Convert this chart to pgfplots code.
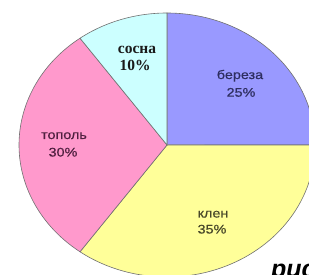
\documentclass[border=0pt]{standalone}
\usepackage{fontspec}
\setmainfont{Liberation Sans}
\newfontfamily\serifcyr{Liberation Serif}
\newfontfamily\lblfont[FakeBold=0.5]{Liberation Sans}
\usepackage{pgfplots}
\pgfplotsset{compat=1.18}
\definecolor{cB}{HTML}{9999FF}
\definecolor{cK}{HTML}{FFFF99}
\definecolor{cT}{HTML}{FF99CC}
\definecolor{cS}{HTML}{CCFFFF}
\definecolor{edge}{HTML}{707070}
\definecolor{tB}{HTML}{2E2E60}
\definecolor{tK}{HTML}{48482A}
\definecolor{tT}{HTML}{502040}
\definecolor{tS}{HTML}{1A1A1A}
\begin{document}
\begin{tikzpicture}[x=1pt,y=1pt]
% data (percent)
\def\vBer{25}\def\vKle{35}\def\vTop{30}\def\vSos{10}
\pgfmathsetmacro\aA{90}
\pgfmathsetmacro\aB{\aA-3.6*\vBer}
\pgfmathsetmacro\aC{\aB-3.6*\vKle}
\pgfmathsetmacro\aD{\aC-3.6*\vTop}
\pgfmathsetmacro\aE{\aD-3.6*\vSos}
\useasboundingbox (0,0) rectangle (309,275);
\clip (0,0) rectangle (309,275);
\begin{axis}[at={(0,0)}, anchor=south west, scale only axis,
  width=309pt, height=275pt, xmin=0, xmax=309, ymin=0, ymax=275,
  hide axis, clip=false]
\addplot[fill=cB, draw=edge, line width=0.6pt, domain=\aB:\aA, samples=80, variable=\t]
  ({167+148*cos(\t)},{130+132*sin(\t)}) -- (axis cs:167,130) -- cycle;
\addplot[fill=cK, draw=edge, line width=0.6pt, domain=\aC:\aB, samples=100, variable=\t]
  ({167+148*cos(\t)},{130+132*sin(\t)}) -- (axis cs:167,130) -- cycle;
\addplot[fill=cT, draw=edge, line width=0.6pt, domain=\aD:\aC, samples=100, variable=\t]
  ({167+148*cos(\t)},{130+132*sin(\t)}) -- (axis cs:167,130) -- cycle;
\addplot[fill=cS, draw=edge, line width=0.6pt, domain=\aE:\aD, samples=40, variable=\t]
  ({167+148*cos(\t)},{130+132*sin(\t)}) -- (axis cs:167,130) -- cycle;
% labels
\tikzset{lbl/.style={anchor=base, xscale=1.15, font=\lblfont\fontsize{12.5}{14}\selectfont}}
\node[lbl, text=tB] at (axis cs:240,196) {береза};
\node[lbl, text=tB] at (axis cs:241,178.3) {25\%};
\node[lbl, text=tK] at (axis cs:213,57.5) {клен};
\node[lbl, text=tK] at (axis cs:212,41.5) {35\%};
\node[lbl, text=tT] at (axis cs:64,136) {тополь};
\node[lbl, text=tT] at (axis cs:63,118.5) {30\%};
\node[anchor=base, text=tS, font=\serifcyr\bfseries\fontsize{15.5}{17}\selectfont] at (axis cs:137,221) {сосна};
\node[anchor=base, text=tS, font=\serifcyr\bfseries\fontsize{15.5}{17}\selectfont] at (axis cs:135,204.5) {10\%};
\node[anchor=base west, inner sep=0pt, text=black, font=\bfseries\itshape\fontsize{25}{27}\selectfont] at (axis cs:271,-2.5) {рис};
\end{axis}
\end{tikzpicture}
\end{document}
